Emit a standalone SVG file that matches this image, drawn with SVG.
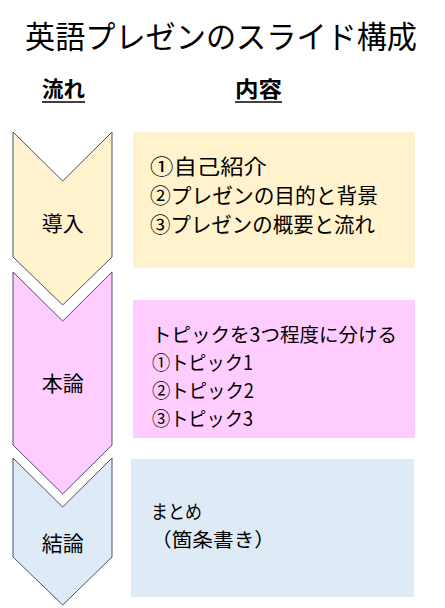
<svg xmlns="http://www.w3.org/2000/svg" width="445" height="608" viewBox="0 0 445 608">
<style>
text{font-family:"Noto Sans CJK JP","Noto Sans",sans-serif;fill:#000}
.title{font-size:31px}
.hdr{font-size:22px;font-weight:bold}
.lbl{font-size:21px;text-anchor:middle}
.body{font-size:21px}
.body2{font-size:19.5px}
.chev{stroke:#44546A;stroke-width:1}
.ul{stroke:#000;stroke-width:1.5}
</style>
<rect width="445" height="608" fill="#fff"/>
<g id="title">
<text class="title" x="25" y="48" textLength="392" lengthAdjust="spacingAndGlyphs">英語プレゼンのスライド構成</text>
</g>
<g id="headers">
<text class="hdr" x="42" y="97" textLength="43" lengthAdjust="spacingAndGlyphs">流れ</text>
<line class="ul" x1="42" y1="102" x2="85" y2="102"/>
<text class="hdr" x="235" y="97" textLength="47" lengthAdjust="spacingAndGlyphs">内容</text>
<line class="ul" x1="235" y1="102" x2="282" y2="102"/>
</g>
<g id="connectors"></g>
<g id="step-intro">
<path class="chev" fill="#FFF2CC" d="M13,132 L62.7,181 L112,132 L112,257 L62.7,305 L13,257 Z"/>
<text class="lbl" x="62.7" y="231">導入</text>
</g>
<g id="step-main">
<path class="chev" fill="#FFCCFF" d="M13,272 L62.7,321 L112,272 L112,445 L62.7,494 L13,445 Z"/>
<text class="lbl" x="62.7" y="391">本論</text>
</g>
<g id="step-conclusion">
<path class="chev" fill="#DEEBF7" d="M13,458 L62.7,507 L112,458 L112,557 L62.7,605 L13,557 Z"/>
<text class="lbl" x="62.7" y="551">結論</text>
</g>
<g id="content-intro">
<rect x="133" y="132" width="282" height="136" fill="#FFF2CC"/>
<text class="body" x="150" y="174" textLength="117" lengthAdjust="spacingAndGlyphs">①自己紹介</text>
<text class="body" x="150" y="203" textLength="228" lengthAdjust="spacingAndGlyphs">②プレゼンの目的と背景</text>
<text class="body" x="150" y="232" textLength="225" lengthAdjust="spacingAndGlyphs">③プレゼンの概要と流れ</text>
</g>
<g id="content-main">
<rect x="133" y="300" width="282" height="138" fill="#FFCCFF"/>
<text class="body2" x="152" y="342" textLength="245" lengthAdjust="spacingAndGlyphs">トピックを3つ程度に分ける</text>
<text class="body2" x="152" y="370" textLength="101" lengthAdjust="spacingAndGlyphs">①トピック1</text>
<text class="body2" x="152" y="398" textLength="102" lengthAdjust="spacingAndGlyphs">②トピック2</text>
<text class="body2" x="152" y="426" textLength="101" lengthAdjust="spacingAndGlyphs">③トピック3</text>
</g>
<g id="content-conclusion">
<rect x="131" y="459" width="283" height="138" fill="#DEEBF7"/>
<text class="body2" x="151" y="519" textLength="51" lengthAdjust="spacingAndGlyphs">まとめ</text>
<text class="body2" x="151" y="547" textLength="124" lengthAdjust="spacingAndGlyphs">（箇条書き）</text>
</g>
</svg>
